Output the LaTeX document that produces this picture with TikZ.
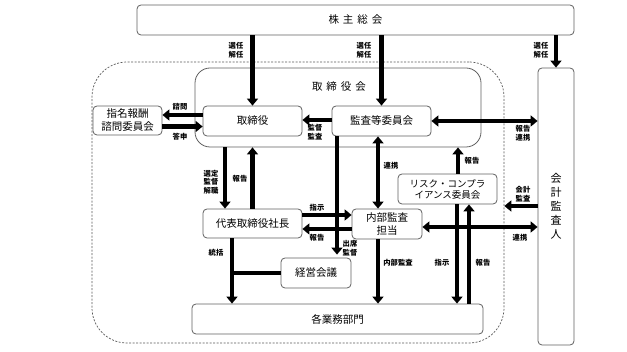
\documentclass[tikz,border=0pt]{standalone}
\usepackage{fontspec}
\setmainfont{Noto Sans CJK JP}
\usetikzlibrary{arrows.meta}
\tikzset{
  box/.style={draw=gray!75!black, line width=0.8pt, rounded corners=4pt, fill=white,
    inner sep=0pt, align=center, font=\fontsize{10.5}{13}\selectfont},
  lbl/.style={inner sep=0pt, align=center, font=\fontsize{7.3}{8.6}\selectfont\bfseries},
  arr/.style={line width=4.8pt, -{Triangle[width=11pt,length=7pt]}},
  darr/.style={line width=4.8pt, {Triangle[width=11pt,length=7pt]}-{Triangle[width=11pt,length=7pt]}},
  bar/.style={line width=4.8pt}
}
\begin{document}
\begin{tikzpicture}[x=1pt, y=-1pt]
        \useasboundingbox (0,0) rectangle (627,352);

        % Group outline
        \node[draw=black!65, dash pattern=on 2pt off 1.5pt, line width=0.7pt,
              rounded corners=35pt, minimum width=412pt, minimum height=281pt, inner sep=0pt]
              (group) at (298,202.5) {};

        % Boxes
        \node[box, minimum width=437pt, minimum height=30pt] (kabunushi) at (355.5,20)
              {株\hspace{4pt}主\hspace{4pt}総\hspace{4pt}会};
        \node[box, rounded corners=15pt, minimum width=286pt, minimum height=79pt] (board) at (338,107.5) {};
        \node[inner sep=0pt, font=\fontsize{10.5}{13}\selectfont] (boardlabel) at (339,87)
              {取\hspace{4pt}締\hspace{4pt}役\hspace{4pt}会};
        \node[box, minimum width=99pt, minimum height=30pt] (torishimariyaku) at (252.5,121) {取締役};
        \node[box, minimum width=99pt, minimum height=30pt] (kansa) at (381.5,121) {監査等委員会};
        \node[box, minimum width=69pt, minimum height=29pt] (shimei) at (127.5,120.5) {指名報酬\\諮問委員会};
        \node[box, minimum width=36pt, minimum height=277pt, font=\fontsize{11}{14}\selectfont]
              (kaikei) at (556,206.5) {会\\計\\監\\査\\人};
        \node[box, minimum width=99pt, minimum height=29pt] (shacho) at (252.5,223.5) {代表取締役社長};
        \node[box, minimum width=70pt, minimum height=30pt] (keiei) at (316,273) {経営会議};
        \node[box, minimum width=291pt, minimum height=30pt] (gyomu) at (337.5,319) {各業務部門};
        \node[box, minimum width=70pt, minimum height=30pt] (naibu) at (387,224) {内部監査\\担当};
        \node[box, minimum width=99pt, minimum height=30pt, font=\fontsize{9.5}{11}\selectfont]
              (risk) at (447.5,189) {リスク・コンプラ\\イアンス委員会};

        % Shareholders
        \draw[arr] (kabunushi.south -| torishimariyaku.north) -- (torishimariyaku.north);
        \draw[arr] (kabunushi.south -| kansa.north) -- (kansa.north);
        \draw[arr] (kabunushi.south -| kaikei.north) -- (kaikei.north);
        \foreach \x/\n in {236/a, 364/b, 541/c}
            \node[lbl] (sennin\n) at (\x,50) {選任\\解任};

        % Board
        \draw[arr] ([yshift=6pt]torishimariyaku.west) -- ([yshift=6pt]torishimariyaku.west -| shimei.east);
        \draw[arr] ([yshift=-6pt]shimei.east) -- ([yshift=-6pt]shimei.east -| torishimariyaku.west);
        \node[lbl] (shimon) at (180,107) {諮問};
        \node[lbl] (toshin) at (180,137) {答申};
        \draw[arr] ([yshift=1pt]kansa.west) -- ([yshift=1pt]kansa.west -| torishimariyaku.east);
        \node[lbl] (kantoku) at (315,132) {監督\\監査};
        \draw[darr] (kansa.east) -- (kansa.east -| kaikei.west);
        \node[lbl] (hokokurenkei) at (523,133) {報告\\連携};

        % President
        \draw[arr] ([xshift=-27.5pt]shacho.north |- board.south) -- ([xshift=-27.5pt]shacho.north);
        \draw[arr] (shacho.north) -- (shacho.north |- board.south);
        \node[lbl] (sentei) at (211,182) {選定\\監督\\解職};
        \node[lbl] (hokokua) at (240,179) {報告};
        \draw[arr] ([yshift=8.5pt]shacho.east) -- ([yshift=8.5pt]shacho.east -| naibu.west);
        \draw[arr] ([yshift=-5.5pt]shacho.east -| naibu.west) -- ([yshift=-5.5pt]shacho.east);
        \node[lbl] (shijia) at (317,208) {指示};
        \node[lbl] (hokokub) at (317,238) {報告};
        \coordinate (tokatsu) at ([xshift=-20.5pt]shacho.south);
        \draw[arr] (tokatsu) -- (tokatsu |- gyomu.north);
        \draw[bar] (keiei.west) -- (keiei.west -| tokatsu);
        \node[lbl] (tokatsulabel) at (216,253) {統括};

        % Audit committee
        \draw[arr] ([xshift=-44.5pt]kansa.south) -- ([xshift=-44.5pt,yshift=3pt]kansa.south |- keiei.north);
        \node[lbl] (shusseki) at (350,248) {出席\\監督};
        \draw[darr] ([xshift=-3.5pt]kansa.south) -- ([xshift=-3.5pt]kansa.south |- naibu.north);
        \node[lbl] (renkeia) at (391,166) {連携};

        % Internal audit
        \draw[arr] ([xshift=-9pt]naibu.south) -- ([xshift=-9pt]naibu.south |- gyomu.north);
        \node[lbl] (naibulabel) at (398,263) {内部監査};
        \draw[darr] ([yshift=-3pt]naibu.east) -- ([yshift=-3pt]naibu.east -| kaikei.west);
        \node[lbl] (renkeib) at (520,238) {連携};

        % Risk committee
        \draw[arr] ([xshift=9.5pt]risk.south) -- ([xshift=9.5pt]risk.south |- gyomu.north);
        \draw[arr] ([xshift=21.5pt]risk.south |- gyomu.north) -- ([xshift=21.5pt]risk.south);
        \node[lbl] (shijib) at (442,263) {指示};
        \node[lbl] (hokokuc) at (483,263) {報告};
        \draw[arr] ([xshift=10.5pt]risk.north) -- ([xshift=10.5pt]risk.north |- board.south);
        \node[lbl] (hokokud) at (472,161) {報告};

        % Accounting auditor
        \draw[arr] ([yshift=0.5pt]kaikei.west) -- ([yshift=0.5pt]kaikei.west -| group.east);
        \node[lbl] (kaikeikansa) at (523,194) {会計\\監査};
\end{tikzpicture}
\end{document}
